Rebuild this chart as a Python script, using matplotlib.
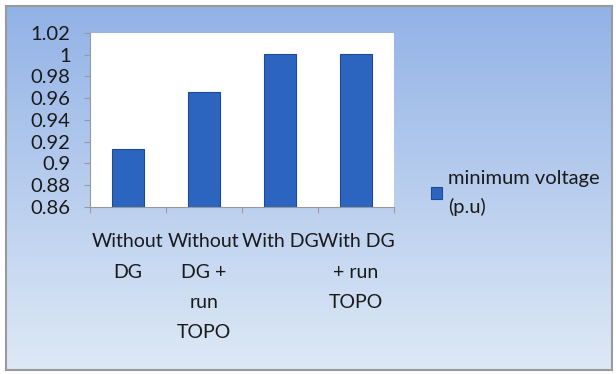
import numpy as np
import matplotlib.pyplot as plt

categories = ["Without\nDG", "Without\nDG +\nrun\nTOPO", "With DG", "With DG\n+ run\nTOPO"]
min_voltage = [0.913, 0.966, 1.001, 1.001]
series_name = "minimum voltage\n(p.u)"
y_ticks = [0.86, 0.88, 0.9, 0.92, 0.94, 0.96, 0.98, 1.0, 1.02]
y_tick_labels = ["0.86", "0.88", "0.9", "0.92", "0.94", "0.96", "0.98", "1", "1.02"]

W, H = 616, 374
plt.rcParams['font.family'] = ['Lato', 'DejaVu Sans']
fig = plt.figure(figsize=(W / 100, H / 100), dpi=100)
fig.patch.set_facecolor("white")

# Background panel with a soft vertical blue gradient
bg = fig.add_axes([6 / W, 4 / H, 606 / W, 364 / H])
top = np.array([146, 178, 230]) / 255
bottom = np.array([222, 233, 246]) / 255
t = np.linspace(0, 1, 256)[:, None]
grad = top * (1 - t[..., None]) + bottom * t[..., None]
grad = np.repeat(grad, 4, axis=1)
bg.imshow(grad, aspect="auto", extent=[0, 1, 0, 1], origin="upper")
bg.set_xticks([])
bg.set_yticks([])
for s in bg.spines.values():
    s.set_color("#9a9a9a")
    s.set_linewidth(1.5)

# Plot area
ax = fig.add_axes([90 / W, 1 - 207 / H, 304 / W, 174 / H])
ax.set_facecolor("white")
x = np.arange(len(categories))
ax.bar(x, min_voltage, width=0.42, color="#2c65c0", edgecolor="#1d4a90", linewidth=0.8,
       label=series_name, zorder=3)
ax.set_xlim(-0.5, len(categories) - 0.5)
ax.set_ylim(0.86, 1.02)
ax.set_yticks(y_ticks)
ax.set_yticklabels(y_tick_labels, fontsize=14.5, color="#1a1a1a")
ax.set_xticks(np.arange(-0.5, len(categories), 1.0), minor=False)
ax.set_xticklabels([])
ax.set_xticks(x, minor=True)
ax.set_xticklabels(categories, minor=True, fontsize=14, color="#1a1a1a",
                   linespacing=1.95, va="top")
ax.tick_params(axis="x", which="minor", length=0, pad=19)
ax.tick_params(axis="x", which="major", length=4, color="#999999", direction="out")
ax.tick_params(axis="y", length=4, color="#999999", pad=10)
for name, s in ax.spines.items():
    if name in ("left", "bottom"):
        s.set_color("#999999")
    else:
        s.set_visible(False)

leg = fig.legend(loc="upper left", bbox_to_anchor=(423 / W, 1 - 162 / H), frameon=False,
                 fontsize=14.5, handlelength=0.55, handleheight=0.55, handletextpad=0.3,
                 borderaxespad=0)
for txt in leg.get_texts():
    txt.set_color("#1a1a1a")
    txt.set_linespacing(1.75)

fig.savefig("out.png", dpi=100)
